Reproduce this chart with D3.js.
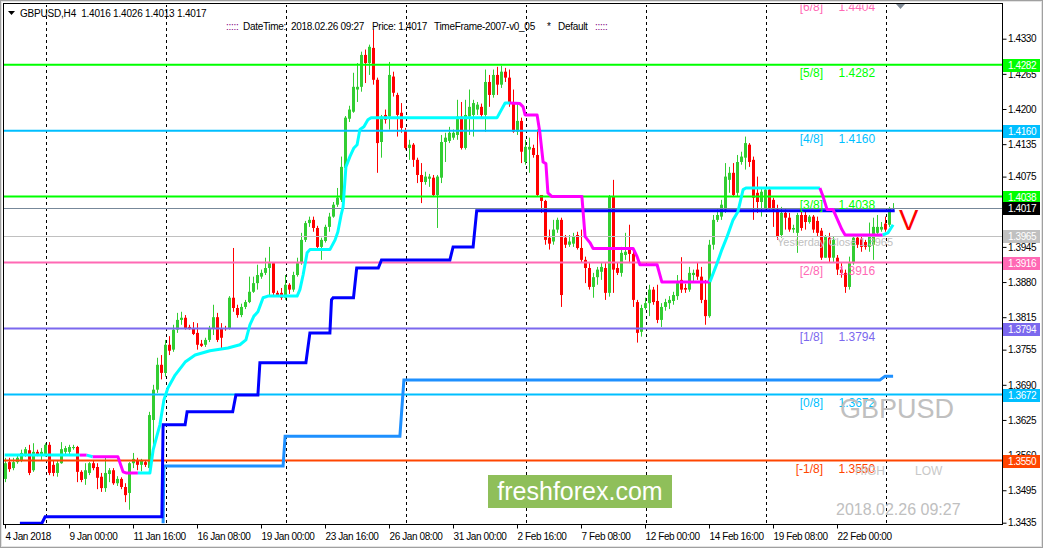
<!DOCTYPE html>
<html><head><meta charset="utf-8">
<script src="https://cdn.jsdelivr.net/npm/d3@7"></script>
<style>
body{margin:0;background:#fff;}
svg{display:block;}
text{font-family:"Liberation Sans",Arial,sans-serif;}
</style>
</head><body>
<svg id="c" width="1043" height="548"></svg>
<script>
// ---------------- DATA (prices in 1/10000 units, e.g. 14017 = 1.4017) ----------------
const symbol = "GBPUSD";
const timeframe = "H4";
const stampText = "2018.02.26 09:27";

const barOpen = [
13516,13547,13536,13547,13551,13560,13569,13532,13566,13560,
13560,13579,13542,13527,13545,13566,13566,13573,13575,13529,
13516,13527,13545,13538,13520,13499,13525,13532,13508,13516,
13501,13490,13545,13551,13542,13547,13536,13625,13681,13727,
13712,13764,13755,13792,13810,13814,13797,13795,13786,13766,
13764,13773,13795,13815,13795,13795,13795,13851,13832,13819,
13834,13843,13862,13878,13890,13897,13906,13915,13860,13860,
13851,13875,13866,13893,13915,13958,13989,13995,13980,13945,
13956,13982,14001,14023,14032,14091,14182,14195,14236,14241,
14300,14285,14313,14254,14139,14189,14186,14260,14226,14193,
14160,14128,14134,14106,14078,14065,14071,14073,14041,14073,
14139,14141,14147,14152,14186,14128,14186,14189,14199,14204,
14189,14250,14226,14263,14245,14269,14258,14211,14158,14178,
14102,14125,14128,14115,14041,14030,13962,13955,13977,13995,
13962,13949,13951,13967,13943,13921,13906,13871,13889,13899,
13906,13860,14038,13906,13897,13930,13940,13932,13843,13788,
13832,13841,13866,13845,13810,13834,13841,13845,13854,13884,
13869,13866,13893,13903,13890,13847,13817,13949,13995,14001,
14014,14069,14082,14045,14102,14110,14134,14106,14045,14028,
14017,14051,14032,14014,13967,14008,13999,13977,13971,14004,
14004,13991,14001,13993,13975,13925,13962,13925,13925,13903,
13897,13871,13915,13962,13960,13954,13945,13949,13971,13977,
13988,13986,14016];

const barHigh = [
13555,13555,13555,13562,13570,13575,13579,13582,13570,13573,
13582,13584,13551,13551,13584,13577,13579,13579,13577,13532,
13545,13547,13551,13545,13527,13557,13536,13536,13521,13519,
13508,13547,13564,13555,13553,13551,13640,13690,13740,13745,
13773,13780,13801,13823,13825,13819,13801,13806,13804,13773,
13777,13799,13838,13823,13804,13799,13854,13943,13838,13840,
13847,13890,13890,13912,13903,13925,13945,13915,13864,13869,
13893,13878,13899,13925,13971,13993,14001,14001,13984,13962,
13986,14008,14028,14054,14112,14187,14206,14267,14285,14306,
14310,14319,14347,14258,14189,14199,14287,14269,14230,14211,
14165,14143,14137,14110,14100,14084,14080,14078,14078,14152,
14156,14167,14162,14217,14213,14217,14236,14217,14213,14210,
14273,14263,14273,14278,14280,14276,14273,14236,14211,14184,
14143,14147,14134,14162,14041,14032,13977,13995,13999,13999,
13967,13967,13971,13973,13977,13927,13915,13897,13908,13917,
13915,14041,14069,13917,13945,13971,13986,13940,13847,13838,
13851,13875,13871,13875,13841,13849,13854,13862,13893,13926,
13877,13908,13903,13917,13908,13884,13958,14004,14014,14032,
14100,14093,14100,14115,14121,14149,14137,14112,14075,14054,
14054,14056,14036,14023,14019,14014,14008,13986,14008,14014,
14010,14004,14004,14001,13980,13967,13971,13964,13930,13915,
13903,13927,13967,13965,13965,13958,13990,13999,14004,13991,
14001,14019,14026];

const barLow = [
13510,13529,13532,13544,13547,13557,13523,13529,13558,13551,
13557,13523,13521,13520,13544,13560,13562,13570,13510,13510,
13505,13523,13532,13497,13492,13492,13510,13505,13503,13497,
13473,13459,13536,13532,13530,13538,13530,13570,13675,13700,
13705,13745,13751,13786,13801,13792,13792,13782,13755,13760,
13760,13769,13782,13769,13755,13790,13792,13825,13814,13815,
13830,13841,13860,13866,13886,13893,13853,13853,13853,13847,
13847,13858,13862,13890,13912,13954,13982,13973,13940,13921,
13953,13973,13999,14019,14028,14088,14176,14193,14213,14232,
14248,14263,14245,14082,14110,14173,14162,14223,14149,14156,
14125,14106,14093,14063,14026,14060,14056,14038,13980,14063,
14102,14137,14143,14143,14125,14125,14152,14149,14189,14184,
14158,14204,14221,14226,14239,14250,14204,14156,14152,14100,
14097,14082,14110,14038,14008,13949,13940,13949,13971,13834,
13943,13945,13945,13940,13917,13878,13866,13851,13875,13884,
13847,13853,13860,13893,13890,13921,13915,13834,13768,13779,
13829,13817,13838,13804,13797,13827,13830,13838,13847,13860,
13860,13862,13880,13884,13841,13801,13814,13940,13991,13995,
14008,14045,14038,14038,14097,14088,14093,13995,14008,14001,
14014,14014,13982,13958,13962,13977,13973,13971,13934,13975,
13977,13988,13971,13965,13921,13925,13917,13917,13893,13888,
13860,13866,13912,13943,13936,13940,13936,13921,13965,13973,
13973,13982,14013];

const barClose = [
13545,13534,13547,13555,13564,13571,13527,13566,13562,13566,
13579,13527,13527,13545,13571,13573,13575,13575,13529,13514,
13532,13545,13536,13518,13499,13527,13532,13508,13516,13501,
13486,13545,13553,13542,13551,13542,13634,13681,13727,13712,
13764,13753,13792,13810,13814,13795,13793,13784,13764,13762,
13773,13795,13815,13773,13777,13793,13851,13832,13819,13834,
13843,13862,13878,13893,13897,13906,13915,13860,13856,13851,
13875,13866,13893,13915,13958,13989,13995,13980,13945,13958,
13982,14001,14023,14036,14093,14184,14199,14241,14241,14300,
14285,14315,14254,14137,14186,14180,14263,14230,14189,14165,
14128,14134,14106,14078,14065,14075,14075,14041,14075,14139,
14147,14156,14156,14186,14128,14189,14204,14211,14208,14189,
14250,14226,14263,14245,14269,14258,14211,14158,14178,14121,
14130,14130,14115,14041,14030,13958,13951,13977,13995,13856,
13949,13955,13964,13943,13921,13906,13871,13889,13903,13908,
13860,14038,13903,13897,13934,13936,13932,13847,13786,13832,
13841,13866,13843,13810,13834,13843,13847,13856,13878,13866,
13866,13897,13897,13890,13847,13817,13949,13995,14004,14023,
14075,14082,14041,14102,14112,14137,14102,14036,14028,14047,
14051,14017,14014,13964,14008,13999,13977,13980,14004,13980,
13991,14001,13977,13971,13925,13964,13925,13958,13903,13897,
13871,13915,13962,13949,13945,13945,13964,13982,13982,13982,
13977,14017,14017];

// trend trail line: bar index, price, state of the segment that starts at that point (c = up, m = down)
const trailBar = [
  0,18.8,20.5,22,28.3,29.6,30.3,33.3,36.3,37.1,
  38.1,38.8,39.8,40.8,42.6,45.1,47.6,51.3,55.8,58.8,
  60.3,61.3,62.3,63.3,64.6,65.8,73.1,73.8,74.6,75.6,
  76.3,81.3,82.6,83.3,84.1,84.6,85.3,86.3,87.3,88.1,
  88.8,89.8,90.8,91.6,123.1,125.1,126.3,128.8,129.6,130.1,
  133.1,133.8,134.6,135.3,135.8,136.8,144.3,145.1,146.3,147.1,
  157.1,158.1,158.8,163.1,164.3,176.3,178.1,179.3,180.6,182.1,
  183.3,184.6,185.3,203.8,204.6,205.6,207.1,209.3,210.1,219.5,
  220.8,222.1];
const trailPrice = [
  13560,13560,13560,13557,13557,13529,13527,13527,13527,13569,
  13597,13616,13662,13684,13708,13732,13745,13753,13758,13764,
  13773,13801,13817,13825,13851,13854,13854,13866,13893,13934,
  13940,13940,13958,13973,14004,14019,14093,14112,14128,14134,
  14162,14167,14180,14184,14184,14211,14211,14210,14204,14189,
  14189,14156,14102,14099,14045,14038,14038,13964,13953,13942,
  13942,13927,13912,13912,13880,13880,13915,13940,13964,13995,
  14010,14051,14054,14054,14038,14014,14014,13977,13967,13967,
  13971,13986];
const trailState = [
  "cmcmmmmccc","cccccccccc","cccccccccc","cccccccccc","ccccccmmmm",
  "mmmmmmmmmm","mmmmmccccc","cccmmmmmmc","cc"].join("");

// stepped support lines
const blueBar   = [3.8,9.3,10.1,39.3,39.6,45.1,45.6,57,57.8,63.3,63.8,75.3,76.3,81.3,81.7,82.1,87.2,88,93.4,94.2,111.3,112.1,117.1,118,222.5];
const bluePrice = [13434,13434,13446,13446,13616,13616,13640,13640,13671,13671,13731,13731,13786,13786,13847,13851,13851,13906,13906,13921,13921,13945,13945,14012,14012];
const dodgerBar   = [39.6,39.8,69.6,70.1,98.8,99.8,218.8,220.1,222.1];
const dodgerPrice = [13434,13540,13540,13595,13595,13699,13699,13706,13706];

// Murrey Math levels
const levelNames  = ["[6/8]","[5/8]","[4/8]","[3/8]","[2/8]","[1/8]","[0/8]","[-1/8]"];
const levelValues = [14404,14282,14160,14038,13916,13794,13672,13550];
const currentPrice = 14017;
const yesterdayClose = 13965;

// axes
const priceTicks = [14330,14265,14200,14135,14075,14010,13945,13880,13815,13755,13690,13625,13560,13495,13435];
const timeTickBars = [0,16,32,48,64,80,96,112,128,144,160,176,192,208];
const timeLabels = ["4 Jan 2018","9 Jan 00:00","11 Jan 16:00","16 Jan 08:00","19 Jan 00:00","23 Jan 16:00","26 Jan 08:00","31 Jan 00:00","2 Feb 16:00","7 Feb 08:00","12 Feb 00:00","14 Feb 16:00","19 Feb 08:00","22 Feb 00:00"];
const gridBars = [10.25,40.25,70.25,100.25,130.25,160.25,190.25,220.25];

// ---------------- DRAWING ----------------
const W = 1043, H = 548;
const P = {left:3, top:4, right:1002, bottom:524};
const fmt = v => (v/10000).toFixed(4);
const x = d3.scaleLinear().domain([0,222]).range([4.7,892.7]);
const y = d3.scaleLinear().domain([13435,14330]).range([522.7,38.7]);

const levelColor = {"[6/8]":"#ff69b4","[5/8]":"#00ff00","[4/8]":"#00bfff","[3/8]":"#00ff00",
  "[2/8]":"#ff69b4","[1/8]":"#7b68ee","[0/8]":"#00bfff","[-1/8]":"#ff4500"};

const svg = d3.select("#c");
svg.append("rect").attr("width",W).attr("height",H).attr("fill","#ffffff");

const defs = svg.append("defs");
defs.append("clipPath").attr("id","plot").append("rect")
  .attr("x",P.left+1).attr("y",P.top+1).attr("width",P.right-P.left-1).attr("height",P.bottom-P.top-1);
defs.append("clipPath").attr("id","top").append("rect")
  .attr("x",P.left+1).attr("y",P.top+0.5).attr("width",P.right-P.left-1).attr("height",P.bottom-P.top);

const g = svg.append("g").attr("clip-path","url(#plot)");

// vertical dashed grid
g.selectAll("line.grid").data(gridBars).join("line")
  .attr("x1",d=>Math.round(x(d))+0.5).attr("x2",d=>Math.round(x(d))+0.5)
  .attr("y1",P.top).attr("y2",P.bottom)
  .attr("stroke","#000").attr("stroke-width",1).attr("stroke-dasharray","3,3");

// candles
const idx = d3.range(barOpen.length);
const cg = g.append("g");
cg.selectAll("line.wick").data(idx).join("line")
  .attr("x1",i=>Math.round(x(i))+0.5).attr("x2",i=>Math.round(x(i))+0.5)
  .attr("y1",i=>y(barHigh[i])).attr("y2",i=>y(barLow[i]))
  .attr("stroke",i=>barClose[i]>=barOpen[i]?"#32cd32":"#ff0000").attr("stroke-width",1);
cg.selectAll("rect.body").data(idx).join("rect")
  .attr("x",i=>Math.round(x(i))-1).attr("width",3)
  .attr("y",i=>Math.min(y(barOpen[i]),y(barClose[i])))
  .attr("height",i=>Math.max(1,Math.abs(y(barOpen[i])-y(barClose[i]))))
  .attr("fill",i=>barClose[i]>=barOpen[i]?"#32cd32":"#ff0000");

// level lines
g.selectAll("line.level").data(levelValues).join("line")
  .attr("x1",P.left).attr("x2",P.right)
  .attr("y1",d=>y(d)).attr("y2",d=>y(d))
  .attr("stroke",(d,k)=>levelColor[levelNames[k]]).attr("stroke-width",2);
// yesterday close & current price
g.append("line").attr("x1",P.left).attr("x2",P.right)
  .attr("y1",Math.round(y(yesterdayClose))+0.5).attr("y2",Math.round(y(yesterdayClose))+0.5)
  .attr("stroke","#c0c0c0").attr("stroke-width",1);
g.append("line").attr("x1",P.left).attr("x2",P.right)
  .attr("y1",Math.round(y(currentPrice))+0.5).attr("y2",Math.round(y(currentPrice))+0.5)
  .attr("stroke","#778899").attr("stroke-width",1);

// stepped lines
const line = d3.line().x(d=>x(d[0])).y(d=>y(d[1]));
g.append("path").datum(dodgerBar.map((b,k)=>[b,dodgerPrice[k]]))
  .attr("d",line).attr("fill","none").attr("stroke","#1e90ff").attr("stroke-width",3);
g.append("path").datum(blueBar.map((b,k)=>[b,bluePrice[k]]))
  .attr("d",line).attr("fill","none").attr("stroke","#0000ff").attr("stroke-width",3);

// trail line, coloured by state
const trailPts = trailBar.map((b,k)=>[b,trailPrice[k]]);
const runs = [];
let start = 0;
for (let k=1;k<trailPts.length;k++){
  if (k===trailPts.length-1 || trailState[k]!==trailState[start]){
    runs.push({pts:trailPts.slice(start,k+1), s:trailState[start]});
    start = k;
  }
}
g.selectAll("path.trail").data(runs).join("path")
  .attr("d",r=>line(r.pts)).attr("fill","none")
  .attr("stroke",r=>r.s==="c"?"#00ffff":"#ff00ff").attr("stroke-width",3)
  .attr("stroke-linejoin","round");

// level labels
const tg = svg.append("g").attr("clip-path","url(#top)");
tg.selectAll("text.lname").data(levelValues).join("text")
  .attr("x",823).attr("y",d=>y(d)+12).attr("text-anchor","end")
  .attr("font-size",12).attr("fill",(d,k)=>levelColor[levelNames[k]])
  .text((d,k)=>levelNames[k]);
tg.selectAll("text.lval").data(levelValues).join("text")
  .attr("x",838.5).attr("y",d=>y(d)+12)
  .attr("font-size",12).attr("fill",(d,k)=>levelColor[levelNames[k]])
  .text(d=>fmt(d));
tg.append("text").attr("x",777).attr("y",y(yesterdayClose)+10)
  .attr("font-size",11).attr("fill","#c0c0c0").attr("textLength",116).attr("lengthAdjust","spacingAndGlyphs")
  .text("Yesterday Close " + fmt(yesterdayClose));

// watermark texts
svg.append("text").attr("x",840).attr("y",418).attr("font-size",27).attr("fill","#c0c0c0").text(symbol);
svg.append("text").attr("x",855).attr("y",475).attr("font-size",12).attr("fill","#c8c8c8").text("HIGH");
svg.append("text").attr("x",915).attr("y",475).attr("font-size",12).attr("fill","#c8c8c8").text("LOW");
svg.append("text").attr("x",836).attr("y",515).attr("font-size",16).attr("fill","#c0c0c0").text(stampText);
svg.append("text").attr("x",899).attr("y",230).attr("font-size",29).attr("fill","#ff0000").text("V");

// freshforex badge
svg.append("rect").attr("x",488).attr("y",475).attr("width",184).attr("height",33).attr("fill","#8fbf5a");
svg.append("text").attr("x",580).attr("y",500).attr("text-anchor","middle").attr("font-size",25).attr("fill","#ffffff").text("freshforex.com");

// shift marker
svg.append("path").attr("d","M896,4 L905,4 L900.5,9 Z").attr("fill","#7f8a96");

// frame
svg.append("rect").attr("x",P.left+0.5).attr("y",P.top-0.5).attr("width",P.right-P.left).attr("height",P.bottom-P.top+1)
  .attr("fill","none").attr("stroke","#000").attr("stroke-width",1);

// right axis
const ay = svg.append("g").attr("transform",`translate(${P.right+0.5},0)`)
  .call(d3.axisRight(y).tickValues(priceTicks).tickSize(4).tickFormat(fmt));
ay.select(".domain").remove();
ay.selectAll("text").attr("font-size",10).attr("font-family","Liberation Sans, Arial").attr("letter-spacing","-0.4").attr("x",5.5).attr("fill","#000");
ay.selectAll("line").attr("stroke","#000");

// price boxes on axis
const boxes = levelValues.slice(1).map((v,k)=>({v, c:levelColor[levelNames[k+1]], t:"#fff"}))
  .concat([{v:yesterdayClose,c:"#c0c0c0",t:"#fff"},{v:currentPrice,c:"#000000",t:"#fff"}]);
const bg = svg.append("g");
bg.selectAll("rect").data(boxes).join("rect")
  .attr("x",P.right+1).attr("width",37).attr("y",d=>Math.round(y(d.v))-6).attr("height",13).attr("fill",d=>d.c);
bg.selectAll("text").data(boxes).join("text")
  .attr("x",P.right+6).attr("y",d=>Math.round(y(d.v))+4)
  .attr("font-size",10).attr("letter-spacing","-0.4").attr("fill",d=>d.t).text(d=>fmt(d.v));

// bottom axis
const ax = svg.append("g").attr("transform",`translate(0,${P.bottom+0.5})`)
  .call(d3.axisBottom(x).tickValues(timeTickBars).tickSize(4).tickFormat((d,k)=>timeLabels[k]));
ax.select(".domain").remove();
ax.selectAll(".tick").attr("transform",d=>`translate(${Math.round(x(d))+0.5},0)`);
ax.selectAll("text").attr("text-anchor","start").attr("x",0).attr("y",8).attr("dy","0.71em")
  .attr("font-size",10).attr("font-family","Liberation Sans, Arial").attr("letter-spacing","-0.4").attr("fill","#000");
ax.selectAll("line").attr("stroke","#000");

// header
svg.append("path").attr("d","M8,11 L15,11 L11.5,15 Z").attr("fill","#000");
const n = barOpen.length-1;
svg.append("text").attr("x",20).attr("y",16.5).attr("font-size",10).attr("letter-spacing","-0.2").attr("fill","#000")
  .style("white-space","pre")
  .text(`${symbol},${timeframe}  ${fmt(barOpen[n])} ${fmt(barHigh[n])} ${fmt(barLow[n])} ${fmt(barClose[n])}`);
const hdr = [[226,":::::","#800080"],[243,"DateTime:","#000"],[291,stampText,"#000"],[372,"Price: "+fmt(currentPrice),"#000"],
  [434,"TimeFrame-2007-v0_05","#000"],[547,"*","#000"],[558,"Default","#000"],[595,":::::","#800080"]];
svg.selectAll("text.hdr").data(hdr).join("text").attr("class","hdr")
  .attr("x",d=>d[0]).attr("y",29.5).attr("font-size",10).attr("letter-spacing","-0.3").attr("fill",d=>d[2]).text(d=>d[1]);

// window border
svg.append("rect").attr("x",0.5).attr("y",0.5).attr("width",W-1).attr("height",H-1).attr("fill","none").attr("stroke","#a0a0a0");
svg.append("rect").attr("x",1.5).attr("y",1.5).attr("width",W-3).attr("height",H-3).attr("fill","none").attr("stroke","#e3e3e3");
</script>
</body></html>
